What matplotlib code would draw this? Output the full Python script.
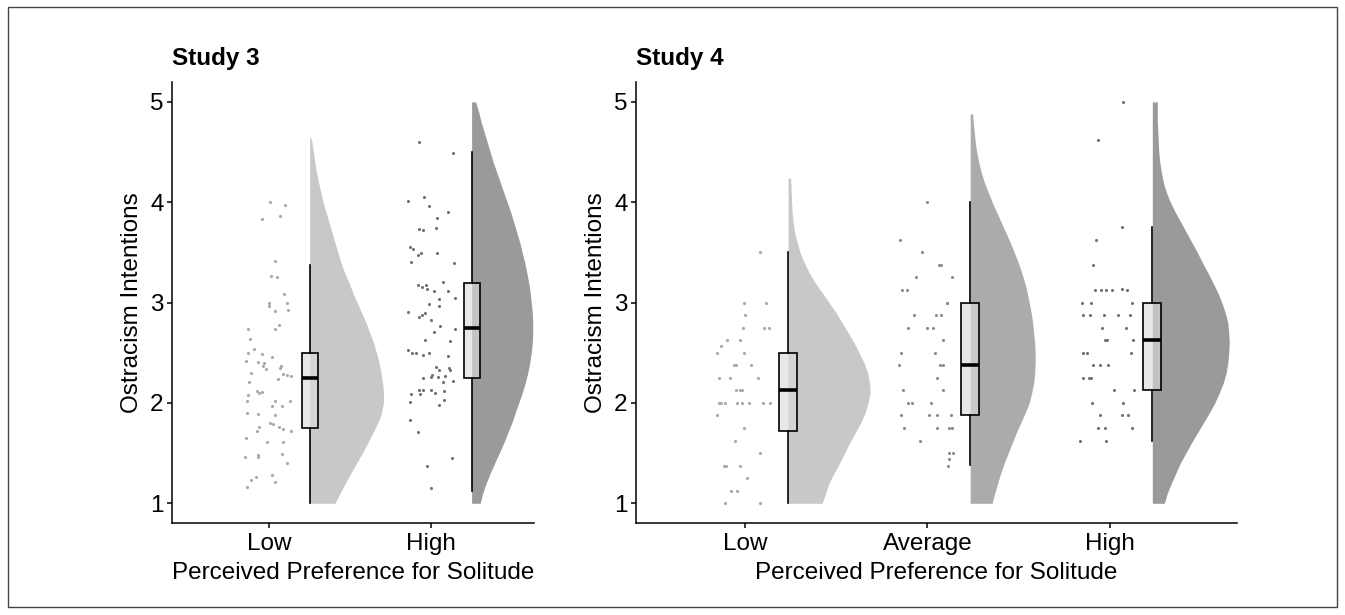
import matplotlib
matplotlib.use('Agg')
import matplotlib.pyplot as plt
import numpy as np
from matplotlib.patches import Rectangle

plt.rcParams['font.family'] = ['Liberation Sans', 'DejaVu Sans']

# ---- data ---------------------------------------------------------------
# jittered raw points: (horizontal jitter, score)
s3_low_pts = [(0.007, 4.0), (0.099, 3.97), (-0.047, 3.83), (0.068, 3.86), (0.035, 3.41), (0.013, 3.26),
              (0.048, 3.25), (0.093, 3.09), (-0.004, 3.0), (0.0, 2.97), (0.108, 3.0), (0.037, 2.92),
              (0.116, 2.93), (-0.13, 2.74), (0.062, 2.78), (0.033, 2.74), (-0.119, 2.64), (-0.092, 2.54),
              (-0.132, 2.5), (-0.047, 2.49), (0.019, 2.46), (-0.142, 2.42), (-0.07, 2.41), (-0.031, 2.4),
              (-0.039, 2.37), (-0.022, 2.34), (0.073, 2.37), (0.066, 2.35), (0.087, 2.29), (0.112, 2.28),
              (0.136, 2.27), (0.056, 2.24), (-0.113, 2.3), (-0.127, 2.21), (-0.078, 2.12), (-0.061, 2.1),
              (-0.043, 2.11), (-0.132, 2.08), (-0.14, 2.02), (0.037, 2.02), (0.017, 1.97), (0.077, 1.97),
              (0.13, 2.02), (-0.136, 1.9), (-0.068, 1.89), (0.033, 1.88), (0.002, 1.8), (0.023, 1.79),
              (0.058, 1.76), (0.085, 1.74), (0.136, 1.72), (-0.066, 1.76), (-0.076, 1.72), (-0.146, 1.65),
              (-0.016, 1.61), (0.087, 1.61), (-0.152, 1.46), (-0.072, 1.48), (-0.07, 1.46), (0.081, 1.49),
              (0.11, 1.4), (-0.111, 1.23), (-0.082, 1.26), (0.017, 1.28), (0.037, 1.21), (-0.138, 1.16)]
s3_high_pts = [(-0.075, 4.6), (0.136, 4.49), (-0.143, 4.01), (-0.042, 4.05), (-0.011, 3.96), (0.107, 3.9),
               (0.037, 3.84), (-0.073, 3.73), (-0.05, 3.72), (0.029, 3.74), (-0.13, 3.55), (-0.112, 3.53),
               (-0.06, 3.49), (-0.081, 3.47), (0.037, 3.49), (-0.124, 3.4), (0.14, 3.39), (-0.081, 3.18),
               (-0.058, 3.16), (-0.033, 3.18), (-0.027, 3.14), (0.018, 3.12), (0.074, 3.21), (0.105, 3.12),
               (0.148, 3.05), (0.047, 3.04), (0.051, 2.97), (-0.015, 2.99), (-0.143, 2.91), (-0.04, 2.9),
               (-0.056, 2.88), (-0.072, 2.86), (-0.002, 2.83), (0.053, 2.77), (0.018, 2.71), (0.146, 2.74),
               (-0.035, 2.63), (0.117, 2.62), (-0.145, 2.53), (-0.118, 2.5), (-0.093, 2.5), (-0.052, 2.48),
               (-0.015, 2.5), (0.105, 2.47), (0.029, 2.36), (0.051, 2.33), (0.109, 2.35), (0.117, 2.33),
               (0.004, 2.28), (-0.002, 2.26), (-0.048, 2.25), (0.043, 2.26), (0.088, 2.27), (0.072, 2.21),
               (0.132, 2.22), (-0.124, 2.09), (-0.128, 2.01), (-0.077, 2.13), (-0.052, 2.13), (-0.066, 2.09),
               (0.002, 2.13), (0.022, 2.1), (0.08, 2.12), (0.051, 1.98), (0.082, 2.03), (-0.128, 1.83),
               (-0.083, 1.71), (0.127, 1.45), (-0.023, 1.37), (0.0, 1.15)]
s4_low_pts = [(0.079, 3.5), (-0.005, 3.0), (0.114, 3.0), (0.0, 2.875), (-0.011, 2.75), (0.103, 2.75),
              (0.13, 2.75), (-0.1, 2.625), (-0.029, 2.625), (-0.133, 2.57), (-0.155, 2.5), (-0.005, 2.5),
              (-0.062, 2.375), (-0.053, 2.375), (0.03, 2.375), (-0.144, 2.25), (-0.082, 2.25), (0.07, 2.25),
              (-0.053, 2.125), (-0.031, 2.125), (-0.02, 2.125), (-0.144, 2.0), (-0.135, 2.0), (-0.113, 2.0),
              (-0.044, 2.0), (-0.02, 2.0), (0.022, 2.0), (0.097, 2.0), (0.136, 2.0), (-0.157, 1.875),
              (-0.007, 1.75), (-0.058, 1.625), (0.081, 1.5), (-0.115, 1.375), (-0.108, 1.375), (-0.029, 1.375),
              (0.011, 1.25), (-0.078, 1.125), (-0.044, 1.125), (-0.109, 1.0), (0.079, 1.0)]
s4_avg_pts = [(0.0, 4.0), (-0.151, 3.625), (-0.028, 3.5), (0.063, 3.375), (0.076, 3.375), (-0.061, 3.25),
              (0.133, 3.25), (-0.142, 3.125), (-0.113, 3.125), (0.105, 3.0), (0.11, 3.0), (-0.072, 2.875),
              (0.049, 2.875), (0.074, 2.875), (-0.107, 2.75), (0.0, 2.75), (0.028, 2.75), (0.085, 2.625),
              (-0.147, 2.5), (0.041, 2.5), (-0.158, 2.375), (0.067, 2.375), (0.083, 2.375), (0.05, 2.25),
              (-0.136, 2.125), (0.085, 2.125), (-0.104, 2.0), (-0.082, 2.0), (0.017, 2.0), (-0.144, 1.875),
              (0.008, 1.875), (0.05, 1.875), (0.127, 1.875), (-0.131, 1.75), (0.054, 1.75), (0.118, 1.75),
              (0.133, 1.75), (-0.041, 1.625), (0.12, 1.5), (0.138, 1.5), (0.12, 1.44), (0.113, 1.375)]
s4_high_pts = [(0.073, 5.0), (-0.066, 4.625), (0.068, 3.75), (-0.077, 3.625), (-0.088, 3.375),
               (-0.081, 3.125), (-0.048, 3.125), (-0.02, 3.125), (0.011, 3.125), (0.066, 3.14), (0.097, 3.125),
               (-0.15, 3.0), (-0.103, 3.0), (0.124, 3.0), (-0.145, 2.875), (-0.105, 2.875), (-0.028, 2.875),
               (0.047, 2.875), (0.113, 2.875), (-0.04, 2.75), (0.091, 2.75), (-0.026, 2.625), (-0.013, 2.625),
               (0.128, 2.625), (-0.145, 2.5), (-0.121, 2.5), (0.117, 2.5), (-0.092, 2.375), (-0.053, 2.375),
               (-0.011, 2.375), (-0.145, 2.25), (-0.114, 2.25), (-0.103, 2.25), (0.024, 2.125), (0.132, 2.125),
               (-0.094, 2.0), (0.073, 2.0), (-0.053, 1.875), (0.069, 1.875), (0.102, 1.875), (-0.064, 1.75),
               (-0.026, 1.75), (0.121, 1.75), (-0.163, 1.625), (-0.017, 1.625)]

# box summaries: whisker low, Q1, median, Q3, whisker high
s3_low_box = (1.0, 1.75, 2.25, 2.5, 3.37)
s3_high_box = (1.12, 2.25, 2.75, 3.2, 4.5)
s4_low_box = (1.0, 1.72, 2.125, 2.5, 3.5)
s4_avg_box = (1.38, 1.875, 2.375, 3.0, 4.0)
s4_high_box = (1.625, 2.125, 2.625, 3.0, 3.75)

# half-violin outlines: score level -> density relative to the widest violin of the panel
s3_low_vy = [4.65, 4.6, 4.5, 4.4, 4.3, 4.2, 4.1, 4.0, 3.9, 3.8, 3.7, 3.6, 3.5, 3.4, 3.3, 3.2, 3.1, 3.0, 2.9, 2.8,
             2.7, 2.6, 2.5, 2.4, 2.3, 2.2, 2.1, 2.0, 1.9, 1.8, 1.7, 1.6, 1.5, 1.4, 1.3, 1.2, 1.1, 1.0]
s3_low_vd = [0.01, 0.03, 0.05, 0.07, 0.09, 0.12, 0.15, 0.18, 0.22, 0.26, 0.3, 0.34, 0.38, 0.42, 0.47, 0.53, 0.58,
             0.64, 0.7, 0.76, 0.81, 0.86, 0.9, 0.935, 0.962, 0.983, 0.996, 0.995, 0.968, 0.918, 0.852, 0.782,
             0.71, 0.632, 0.555, 0.48, 0.41, 0.34]
s3_high_vy = [5.0, 4.9, 4.8, 4.7, 4.6, 4.5, 4.4, 4.3, 4.2, 4.1, 4.0, 3.9, 3.8, 3.7, 3.6, 3.5, 3.4, 3.3, 3.2, 3.1,
              3.0, 2.9, 2.8, 2.7, 2.6, 2.5, 2.4, 2.3, 2.2, 2.1, 2.0, 1.9, 1.8, 1.7, 1.6, 1.5, 1.4, 1.3, 1.2, 1.1, 1.0]
s3_high_vd = [0.054, 0.095, 0.128, 0.169, 0.209, 0.25, 0.29, 0.338, 0.385, 0.432, 0.48, 0.527, 0.568, 0.608,
              0.649, 0.682, 0.716, 0.743, 0.77, 0.79, 0.804, 0.818, 0.824, 0.824, 0.818, 0.804, 0.784, 0.757,
              0.723, 0.682, 0.635, 0.588, 0.541, 0.486, 0.432, 0.372, 0.311, 0.25, 0.196, 0.149, 0.115]
s4_low_vy = [4.24, 4.2, 4.1, 4.0, 3.9, 3.8, 3.7, 3.6, 3.5, 3.4, 3.3, 3.2, 3.1, 3.0, 2.9, 2.8, 2.7, 2.6, 2.5, 2.4,
             2.3, 2.2, 2.1, 2.0, 1.9, 1.8, 1.7, 1.6, 1.5, 1.4, 1.3, 1.2, 1.1, 1.0]
s4_low_vd = [0.03, 0.033, 0.037, 0.043, 0.049, 0.061, 0.079, 0.11, 0.146, 0.195, 0.256, 0.329, 0.415, 0.5, 0.585,
             0.659, 0.732, 0.805, 0.866, 0.927, 0.97, 0.994, 1.0, 0.976, 0.939, 0.884, 0.817, 0.75, 0.689, 0.628,
             0.561, 0.5, 0.457, 0.415]
s4_avg_vy = [4.88, 4.8, 4.7, 4.6, 4.5, 4.4, 4.3, 4.2, 4.1, 4.0, 3.9, 3.8, 3.7, 3.6, 3.5, 3.4, 3.3, 3.2, 3.1, 3.0,
             2.9, 2.8, 2.7, 2.6, 2.5, 2.4, 2.3, 2.2, 2.1, 2.0, 1.9, 1.8, 1.7, 1.6, 1.5, 1.4, 1.3, 1.2, 1.1, 1.0]
s4_avg_vd = [0.03, 0.037, 0.049, 0.061, 0.079, 0.104, 0.134, 0.171, 0.22, 0.268, 0.323, 0.378, 0.433, 0.488, 0.537,
             0.585, 0.628, 0.665, 0.695, 0.72, 0.744, 0.762, 0.774, 0.787, 0.793, 0.793, 0.787, 0.774, 0.75, 0.72,
             0.671, 0.616, 0.561, 0.512, 0.463, 0.415, 0.372, 0.335, 0.299, 0.268]
s4_high_vy = [5.0, 4.9, 4.8, 4.7, 4.6, 4.5, 4.4, 4.3, 4.2, 4.1, 4.0, 3.9, 3.8, 3.7, 3.6, 3.5, 3.4, 3.3, 3.2, 3.1,
              3.0, 2.9, 2.8, 2.7, 2.6, 2.5, 2.4, 2.3, 2.2, 2.1, 2.0, 1.9, 1.8, 1.7, 1.6, 1.5, 1.4, 1.3, 1.2, 1.1, 1.0]
s4_high_vd = [0.061, 0.061, 0.061, 0.067, 0.073, 0.079, 0.091, 0.11, 0.134, 0.171, 0.22, 0.28, 0.348, 0.415, 0.482,
              0.549, 0.61, 0.677, 0.738, 0.799, 0.848, 0.89, 0.921, 0.933, 0.939, 0.933, 0.921, 0.902, 0.866, 0.817,
              0.762, 0.695, 0.622, 0.549, 0.476, 0.409, 0.341, 0.287, 0.232, 0.183, 0.146]

s3_labels = ['Low', 'High']
s4_labels = ['Low', 'Average', 'High']

LIGHT, MID, DARK = '#c8c8c8', '#ababab', '#9a9a9a'
PT_LIGHT, PT_MID, PT_DARK = '#a8a8a8', '#8c8c8c', '#727272'
FS = 17.5


def draw_panel(ax, groups, max_width, shift):
    for i, (pts, box, vy, vd, vcol, pcol) in enumerate(groups):
        pos = i + 1
        pts = np.array(pts)
        base = pos + shift
        ax.fill_betweenx(vy, base, base + np.array(vd) * max_width, color=vcol, lw=0, zorder=1)
        ax.scatter(pos + pts[:, 0], pts[:, 1], s=5, color=pcol, lw=0, zorder=2)
        stats = dict(whislo=box[0], q1=box[1], med=box[2], q3=box[3], whishi=box[4], fliers=[])
        ax.bxp([stats], positions=[base], widths=0.1, showfliers=False, showcaps=False,
               patch_artist=True, zorder=3,
               boxprops=dict(facecolor=(0.86, 0.86, 0.86, 0.64), edgecolor='black', linewidth=1.2),
               medianprops=dict(color='black', linewidth=2.6),
               whiskerprops=dict(color='black', linewidth=1.2))


def style_axes(ax, labels, xmax, title):
    ax.set_xlim(0.4, xmax)
    ax.set_ylim(0.8, 5.2)
    ax.set_yticks([1, 2, 3, 4, 5])
    ax.set_xticks(range(1, len(labels) + 1))
    ax.set_xticklabels(labels)
    for s in ['top', 'right']:
        ax.spines[s].set_visible(False)
    for s in ['left', 'bottom']:
        ax.spines[s].set_linewidth(1.1)
    ax.tick_params(length=3.6, width=1.1, labelsize=FS, pad=2.5, colors='black')
    ax.tick_params(axis='x', pad=3.5)
    ax.set_ylabel('Ostracism Intentions', fontsize=FS, labelpad=5)
    ax.set_xlabel('Perceived Preference for Solitude', fontsize=FS, labelpad=5)
    ax.set_title(title, loc='left', fontsize=FS, fontweight='bold', pad=12)


fig = plt.figure(figsize=(13.45, 6.15), dpi=100)
ax1 = fig.add_axes([0.1279, 0.149, 0.397 - 0.1279, 0.867 - 0.149])
ax2 = fig.add_axes([0.4729, 0.149, 0.9197 - 0.4729, 0.867 - 0.149])

draw_panel(ax1, [(s3_low_pts, s3_low_box, s3_low_vy, s3_low_vd, LIGHT, PT_LIGHT),
                 (s3_high_pts, s3_high_box, s3_high_vy, s3_high_vd, DARK, PT_DARK)], 0.458, 0.25)
style_axes(ax1, s3_labels, 2.635, 'Study 3')

draw_panel(ax2, [(s4_low_pts, s4_low_box, s4_low_vy, s4_low_vd, LIGHT, PT_LIGHT),
                 (s4_avg_pts, s4_avg_box, s4_avg_vy, s4_avg_vd, MID, PT_MID),
                 (s4_high_pts, s4_high_box, s4_high_vy, s4_high_vd, DARK, PT_DARK)], 0.45, 0.235)
style_axes(ax2, s4_labels, 3.7, 'Study 4')

fig.patches.append(Rectangle((8 / 1345, 1 - 607 / 615), 1329 / 1345, 600 / 615, transform=fig.transFigure,
                             fill=False, edgecolor='#444444', linewidth=1))

fig.savefig('out.png', dpi=100)
